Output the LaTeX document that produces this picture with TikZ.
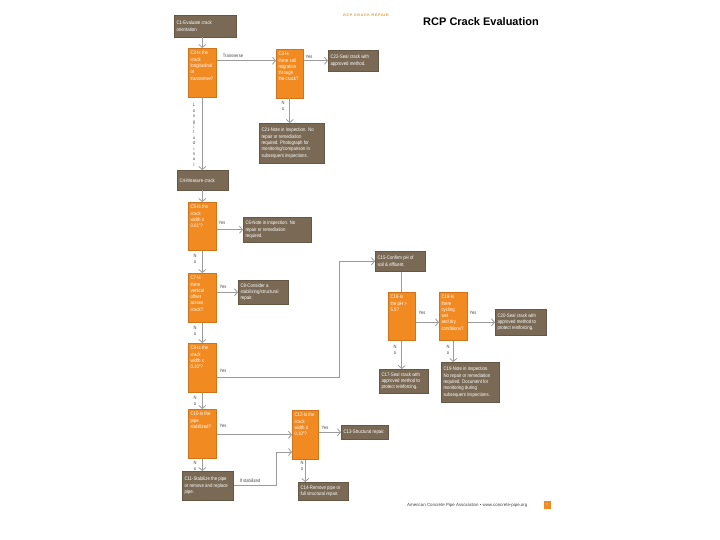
\documentclass[tikz,border=0pt]{standalone}
\usepackage{fontspec}
\setmainfont{Liberation Sans}
\newfontfamily\boxfont[FakeStretch=0.85]{Liberation Sans}
\usetikzlibrary{arrows.meta,calc}
\definecolor{cOr}{HTML}{F28A22}
\definecolor{cOrD}{HTML}{D0741C}
\definecolor{cBr}{HTML}{7A6A55}
\definecolor{cBrD}{HTML}{665846}
\definecolor{cLn}{HTML}{9C9C9C}
\definecolor{cTx}{HTML}{444444}
\definecolor{cHd}{HTML}{E0952E}
\tikzset{
  obox/.style={fill=cOr, draw=cOrD, line width=0.5pt, inner sep=0pt},
  bbox/.style={fill=cBr, draw=cBrD, line width=0.5pt, inner sep=0pt},
  btxt/.style={text=white, font=\boxfont\fontsize{5.1}{6.3}\selectfont, align=left, inner xsep=2.3pt, inner ysep=3pt},
  lbl/.style={text=cTx, font=\boxfont\fontsize{4.8}{5.4}\selectfont, inner sep=0pt, align=center},
  conn/.style={draw=cLn, line width=0.8pt},
  arr/.style={conn, -{Straight Barb[length=3pt,width=7pt]}}
}
% orange box: text at top
\newcommand\obx[6]{%
  \node[obox, anchor=north west, minimum width={(#4-#2)*1pt}, minimum height={(#5-#3)*1pt}] (#1) at (#2,#3) {};
  \node[btxt, anchor=north west] (#1-t) at (#1.north west) {#6};
}
% brown box: text vertically centred
\newcommand\bbx[6]{%
  \node[bbox, anchor=north west, minimum width={(#4-#2)*1pt}, minimum height={(#5-#3)*1pt}] (#1) at (#2,#3) {};
  \node[btxt, inner ysep=0pt, anchor=west] (#1-t) at (#1.west) {#6};
}
\begin{document}
\begin{tikzpicture}[x=1pt,y=-1pt]
\useasboundingbox[fill=white] (0,0) rectangle (720,540);

% header
\node[text=cHd, font=\bfseries\fontsize{3.6}{4}\selectfont\addfontfeatures{LetterSpace=20}] (hdr) at (366,15) {RCP CRACK REPAIR};
\node[font=\bfseries\fontsize{11}{13}\selectfont] (title) at (481,22) {RCP Crack Evaluation};

% boxes
\bbx{C1}{174}{15}{236}{37}{C1-Evaluate crack\\orientation}
\obx{C2}{188}{48}{216}{97}{C2-Is the\\crack\\longitudinal\\or\\transverse?}
\obx{C3}{276}{49}{303}{98}{C3-Is\\there soil\\migration\\through\\the crack?}
\bbx{C22}{328}{50}{378}{71}{C22-Seal crack with\\approved method.}
\bbx{C21}{259}{123}{324}{163}{C21-Note in inspection. No\\repair or remediation\\required. Photograph for\\monitoring/comparison in\\subsequent inspections.}
\bbx{C4}{177}{170}{228}{190}{C4-Measure crack}
\obx{C5}{188}{202}{216}{250}{C5-Is the\\crack\\width ≤\\0.01"?}
\bbx{C6}{243}{217}{311}{242}{C6-Note in inspection. No\\repair or remediation\\required.}
\obx{C7}{188}{273}{216}{322}{C7-Is\\there\\vertical\\offset\\across\\crack?}
\bbx{C8}{238}{280}{288}{304}{C8-Consider a\\stabilizing/structural\\repair.}
\obx{C9}{188}{343}{216}{392}{C9-Is the\\crack\\width ≤\\0.10"?}
\obx{C10}{188}{409}{216}{458}{C10-Is the\\pipe\\stabilized?}
\bbx{C11}{182}{471}{233}{500}{C11-Stabilize the pipe\\or remove and replace\\pipe.}
\obx{C12}{292}{410}{318}{459}{C12-Is the\\crack\\width ≤\\0.10"?}
\bbx{C13}{341}{425}{388}{439}{C13-Structural repair.}
\bbx{C14}{298}{482}{348}{500}{C14-Remove pipe or\\full structural repair.}
\bbx{C15}{375}{251}{425}{271}{C15-Confirm pH of\\soil \& effluent.}
\obx{C16}{388}{292}{415}{340}{C16-Is\\the pH >\\5.5?}
\obx{C18}{439}{292}{467}{340}{C18-Is\\there\\cycling\\wet\\and dry\\conditions?}
\bbx{C20}{495}{309}{546}{335}{C20-Seal crack with\\approved method to\\protect reinforcing.}
\bbx{C17}{379}{369}{428}{393}{C17-Seal crack with\\approved method to\\protect reinforcing.}
\bbx{C19}{441}{362}{499}{402}{C19-Note in inspection.\\No repair or remediation\\required. Document for\\monitoring during\\subsequent inspections.}

% junction points
\coordinate (j1) at (339,377);
\coordinate (j2) at (276,452);

% connectors
\draw[arr] (C2.north |- C1.south) -- (C2.north);
\draw[arr] (C2.east |- C22.west) -- (C3.west |- C22.west);
\draw[arr] (C3.east |- C22.west) -- (C22.west);
\draw[arr] (C3.south) -- (C3.south |- C21.north);
\draw[arr] (C2.south) -- (C2.south |- C4.north);
\draw[arr] (C5.north |- C4.south) -- (C5.north);
\draw[arr] (C5.east |- C6.west) -- (C6.west);
\draw[arr] (C5.south) -- (C5.south |- C7.north);
\draw[arr] (C7.east |- C8.west) -- (C8.west);
\draw[arr] (C7.south) -- (C7.south |- C9.north);
\draw[arr] (C9.east |- j1) -- (j1) |- (C15.west);
\draw[conn] (C15.south -| C16.north) -- (C16.north);
\draw[arr] (C16.east |- C20.west) -- (C18.west |- C20.west);
\draw[arr] (C18.east |- C20.west) -- (C20.west);
\draw[arr] (C16.south) -- (C16.south |- C17.north);
\draw[arr] (C18.south) -- (C18.south |- C19.north);
\draw[arr] (C9.south) -- (C9.south |- C10.north);
\draw[arr] (C10.east |- C12.west) -- (C12.west);
\draw[arr] (C12.east |- C13.west) -- (C13.west);
\draw[arr] (C10.south) -- (C10.south |- C11.north);
\draw[arr] (C11.east) -| (j2) -- (C12.west |- j2);
\draw[arr] (C12.south) -- (C12.south |- C14.north);

% connector labels
\node[lbl] (lT) at (233,56) {Transverse};
\node[lbl] (lY1) at (309,57) {Yes};
\node[lbl] (lN1) at (283,106) {N\\o};
\node[lbl, font=\boxfont\fontsize{4.6}{5.4}\selectfont] (lL) at (194,135) {L\\o\\n\\g\\i\\t\\u\\d\\i\\n\\a\\l};
\node[lbl] (lY2) at (222,223) {Yes};
\node[lbl] (lN2) at (195,259) {N\\o};
\node[lbl] (lY3) at (223,287) {Yes};
\node[lbl] (lN3) at (195,331) {N\\o};
\node[lbl] (lY4) at (223,371) {Yes};
\node[lbl] (lN4) at (195,401) {N\\o};
\node[lbl] (lY5) at (223,426) {Yes};
\node[lbl] (lN5) at (195,466) {N\\o};
\node[lbl] (lIf) at (250,481) {If stabilized};
\node[lbl] (lY6) at (325,428) {Yes};
\node[lbl] (lN6) at (302,466) {N\\o};
\node[lbl] (lY7) at (422,313) {Yes};
\node[lbl] (lY8) at (473,313) {Yes};
\node[lbl] (lN7) at (395,350) {N\\o};
\node[lbl] (lN8) at (448,350) {N\\o};

% footer
\node[text=cTx, font=\fontsize{4.4}{5}\selectfont, anchor=west, inner sep=0pt] (foot) at (407,505) {American Concrete Pipe Association • www.concrete-pipe.org};
\node[fill=cOr, minimum width=7pt, minimum height=8pt, inner sep=0pt, text=white, font=\fontsize{4}{4}\selectfont] (pg) at (547,505) {7};
\end{tikzpicture}
\end{document}
